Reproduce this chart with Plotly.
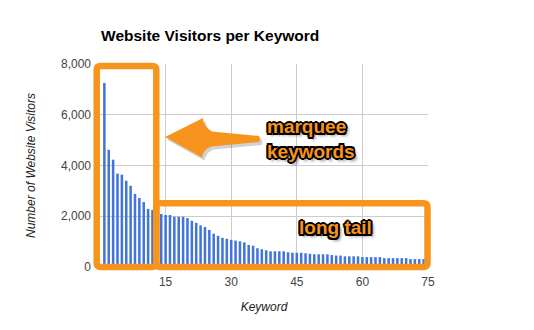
import plotly.graph_objects as go

# ---- data ----
keywords = list(range(1, 76))
visitors = [
    7250, 4620, 4230, 3680, 3640, 3400, 3200, 2880, 2720, 2560,
    2290, 2250, 2180, 2090, 2050, 2050, 1980, 1980, 1980, 1930,
    1820, 1740, 1640, 1580, 1460, 1310, 1230, 1150, 1110, 1070,
    1040, 1010, 970, 870, 840, 740, 700, 660, 620, 620,
    620, 620, 580, 560, 560, 560, 540, 520, 500, 500,
    500, 500, 470, 450, 450, 420, 420, 420, 420, 390,
    390, 390, 390, 390, 350, 350, 350, 350, 350, 350,
    310, 310, 310, 310, 300,
]
x_ticks = [15, 30, 45, 60, 75]
y_ticks = [0, 2000, 4000, 6000, 8000]

W, H = 534, 330
L, R, T, B = 100, 106, 64, 63
PW, PH = W - L - R, H - T - B
ORANGE = "#F7941D"
FONT = "Liberation Sans, Arial, sans-serif"


def px(xp, yp):
    """pixel -> paper coords"""
    return (xp - L) / PW, (H - B - yp) / PH


def rrect(x0, y0, x1, y1, r=4):
    def P(a, b):
        u, v = px(a, b)
        return f"{u:.5f},{v:.5f}"
    return (f"M{P(x0 + r, y0)} L{P(x1 - r, y0)} Q{P(x1, y0)} {P(x1, y0 + r)} "
            f"L{P(x1, y1 - r)} Q{P(x1, y1)} {P(x1 - r, y1)} L{P(x0 + r, y1)} "
            f"Q{P(x0, y1)} {P(x0, y1 - r)} L{P(x0, y0 + r)} Q{P(x0, y0)} {P(x0 + r, y0)} Z")


def arrow_path(dx=0.0, dy=0.0):
    def P(a, b):
        u, v = px(a + dx, b + dy)
        return f"{u:.5f},{v:.5f}"
    return (f"M{P(165, 137)} L{P(203, 118)} Q{P(203, 126)} {P(212, 131.5)} "
            f"L{P(259, 136)} Q{P(261, 139)} {P(259, 142)} L{P(211, 146.5)} "
            f"Q{P(203, 150)} {P(202, 157.5)} Z")


fig = go.Figure()
fig.add_trace(go.Bar(
    x=keywords, y=visitors,
    marker=dict(color="#4274D9", line=dict(width=0)),
    hoverinfo="x+y",
))

shapes = [
    dict(type="path", xref="paper", yref="paper", path=arrow_path(2.5, 3),
         fillcolor="rgba(0,0,0,0.18)", line=dict(width=0)),
    dict(type="path", xref="paper", yref="paper", path=arrow_path(),
         fillcolor=ORANGE, line=dict(width=0)),
    dict(type="path", xref="paper", yref="paper", path=rrect(96.7, 66, 156.3, 267),
         line=dict(color=ORANGE, width=6.5)),
    dict(type="path", xref="paper", yref="paper", path=rrect(156.3, 203.3, 427.5, 267),
         line=dict(color=ORANGE, width=6.5)),
]

outline = ("-1.5px -1.5px 0 #000, 1.5px -1.5px 0 #000, -1.5px 1.5px 0 #000, 1.5px 1.5px 0 #000, "
           "0 -2px 0 #000, 0 2px 0 #000, -2px 0 0 #000, 2px 0 0 #000, "
           "3px 3px 3px rgba(0,0,0,0.45)")
ann_font = dict(family=FONT, size=19, color=ORANGE, weight=700, shadow=outline)
ax1, ay1 = px(265, 139)
ax2, ay2 = px(297, 227)
annotations = [
    dict(xref="paper", yref="paper", x=ax1, y=ay1, xanchor="left", yanchor="middle",
         text="marquee<br>keywords", showarrow=False, align="left", font=ann_font),
    dict(xref="paper", yref="paper", x=ax2, y=ay2, xanchor="left", yanchor="middle",
         text="long tail", showarrow=False, align="left", font=ann_font),
]

fig.update_layout(
    width=W, height=H,
    margin=dict(l=L, r=R, t=T, b=B),
    paper_bgcolor="white", plot_bgcolor="white",
    bargap=0.42,
    showlegend=False,
    title=dict(text="Website Visitors per Keyword", x=L / W + 0.002, xanchor="left",
               xref="container", y=1 - 36 / H, yanchor="middle", yref="container",
               font=dict(family=FONT, size=15.5, color="#000", weight=700)),
    font=dict(family=FONT, size=12, color="#444"),
    shapes=shapes,
    annotations=annotations,
    xaxis=dict(
        range=[0, 75], tickvals=x_ticks, ticktext=[str(v) for v in x_ticks],
        showgrid=True, gridcolor="#CCCCCC", gridwidth=1, zeroline=False,
        showline=False, ticks="", ticklabelstandoff=6,
        tickfont=dict(family=FONT, size=12, color="#444"),
        title=dict(text="<i>Keyword</i>", standoff=14,
                   font=dict(family=FONT, size=12, color="#222")),
    ),
    yaxis=dict(
        range=[0, 8000], tickvals=y_ticks, tickformat=",",
        showgrid=True, gridcolor="#CCCCCC", gridwidth=1, zeroline=False,
        showline=False, ticks="", ticklabelstandoff=8,
        tickfont=dict(family=FONT, size=12, color="#444"),
        title=dict(text="<i>Number of Website Visitors</i>", standoff=22,
                   font=dict(family=FONT, size=12, color="#222")),
    ),
)

fig.write_html("out.html")
